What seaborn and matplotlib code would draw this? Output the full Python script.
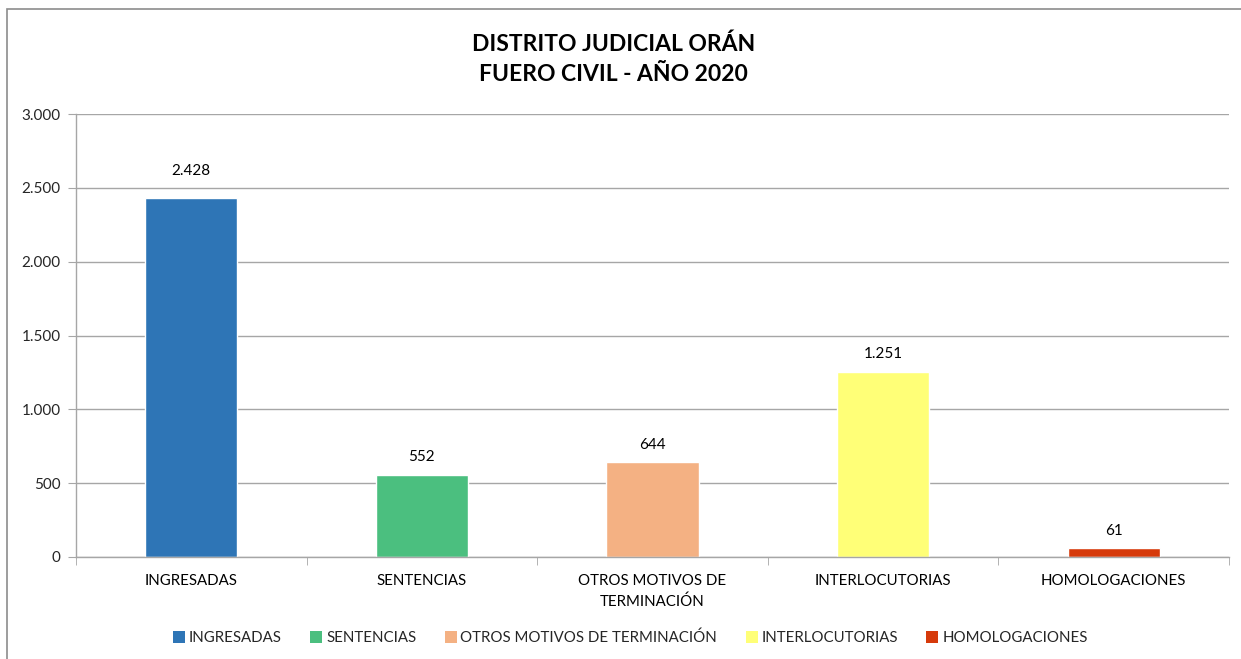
#!/usr/bin/env python3
"""Distrito Judicial Orán - Fuero Civil 2020 bar chart."""

import matplotlib as mpl
import matplotlib.pyplot as plt
from matplotlib.patches import Rectangle, Patch
from matplotlib.ticker import FuncFormatter, FixedLocator, NullFormatter
import pandas as pd
import seaborn as sns

CATEGORIES = ["INGRESADAS", "SENTENCIAS", "OTROS MOTIVOS DE TERMINACIÓN", "INTERLOCUTORIAS", "HOMOLOGACIONES"]
TICK_LABELS = ["INGRESADAS", "SENTENCIAS", "OTROS MOTIVOS DE\nTERMINACIÓN", "INTERLOCUTORIAS", "HOMOLOGACIONES"]
VALUES = [2428, 552, 644, 1251, 61]
COLORS = ["#2E75B6", "#4BBF7F", "#F4B183", "#FFFF77", "#D63A0B"]
Y_TICKS = [0, 500, 1000, 1500, 2000, 2500, 3000]

GRID = "#A6A6A6"
INK = "#000000"


def thousands(v, _pos=None):
    return f"{int(v):,}".replace(",", ".")


def main() -> None:
    sns.set_style("white")
    mpl.rcParams["font.family"] = ["Lato", "DejaVu Sans"]

    fig = plt.figure(figsize=(12.41, 6.59), dpi=100)
    ax = fig.add_axes([76 / 1241, 1 - 557 / 659, (1229 - 76) / 1241, (557 - 114) / 659])

    data = pd.DataFrame({"Categoria": CATEGORIES, "Valor": VALUES})
    palette = dict(zip(CATEGORIES, COLORS))
    sns.barplot(
        data=data,
        x="Categoria",
        y="Valor",
        hue="Categoria",
        palette=palette,
        dodge=False,
        width=0.4,
        saturation=1,
        legend=False,
        ax=ax,
    )

    ax.set_ylim(0, 3000)
    ax.set_xlim(-0.5, len(CATEGORIES) - 0.5)
    ax.set_yticks(Y_TICKS)
    ax.yaxis.set_major_formatter(FuncFormatter(thousands))
    ax.set_xticks(range(len(CATEGORIES)), TICK_LABELS)
    for lab in ax.get_xticklabels():
        lab.set_linespacing(1.6)
    ax.xaxis.set_minor_locator(FixedLocator([i + 0.5 for i in range(-1, len(CATEGORIES))]))
    ax.xaxis.set_minor_formatter(NullFormatter())
    ax.tick_params(axis="x", which="major", length=0, labelsize=10.8, pad=12, colors=INK)
    ax.tick_params(axis="x", which="minor", length=6, color=GRID, direction="out", bottom=True)
    ax.tick_params(axis="y", length=6, color=GRID, direction="out", left=True, labelsize=11, pad=5)
    ax.set_xlabel("")
    ax.set_ylabel("")

    ax.yaxis.grid(True, color=GRID, linewidth=1)
    ax.set_axisbelow(True)
    for side in ("top", "right"):
        ax.spines[side].set_visible(False)
    for side in ("left", "bottom"):
        ax.spines[side].set_color(GRID)
        ax.spines[side].set_linewidth(1)

    paddings = [15, 8, 7, 8, 7]
    for cont, pad in zip(ax.containers, paddings):
        ax.bar_label(cont, labels=[thousands(v) for v in cont.datavalues], padding=pad, fontsize=11, color=INK)

    handles = [Patch(facecolor=c, edgecolor="none", label=lab) for c, lab in zip(COLORS, CATEGORIES)]
    fig.legend(
        handles=handles,
        loc="center",
        bbox_to_anchor=(0.508, 1 - 638 / 659),
        ncol=5,
        frameon=False,
        fontsize=10.8,
        handlelength=0.8,
        handleheight=0.8,
        handletextpad=0.25,
        columnspacing=1.9,
    )

    fig.text(0.4945, 1 - 59 / 659, "DISTRITO JUDICIAL ORÁN\nFUERO CIVIL - AÑO 2020",
             ha="center", va="center", fontsize=16.5, fontweight="bold", linespacing=1.55, color=INK)

    fig.patches.append(Rectangle((7 / 1241, -0.05), 1.0, 1 - 9 / 659 + 0.05, transform=fig.transFigure,
                                 fill=False, edgecolor="#8C8C8C", linewidth=1.2))

    fig.savefig("out.png", dpi=100)


if __name__ == "__main__":
    main()
